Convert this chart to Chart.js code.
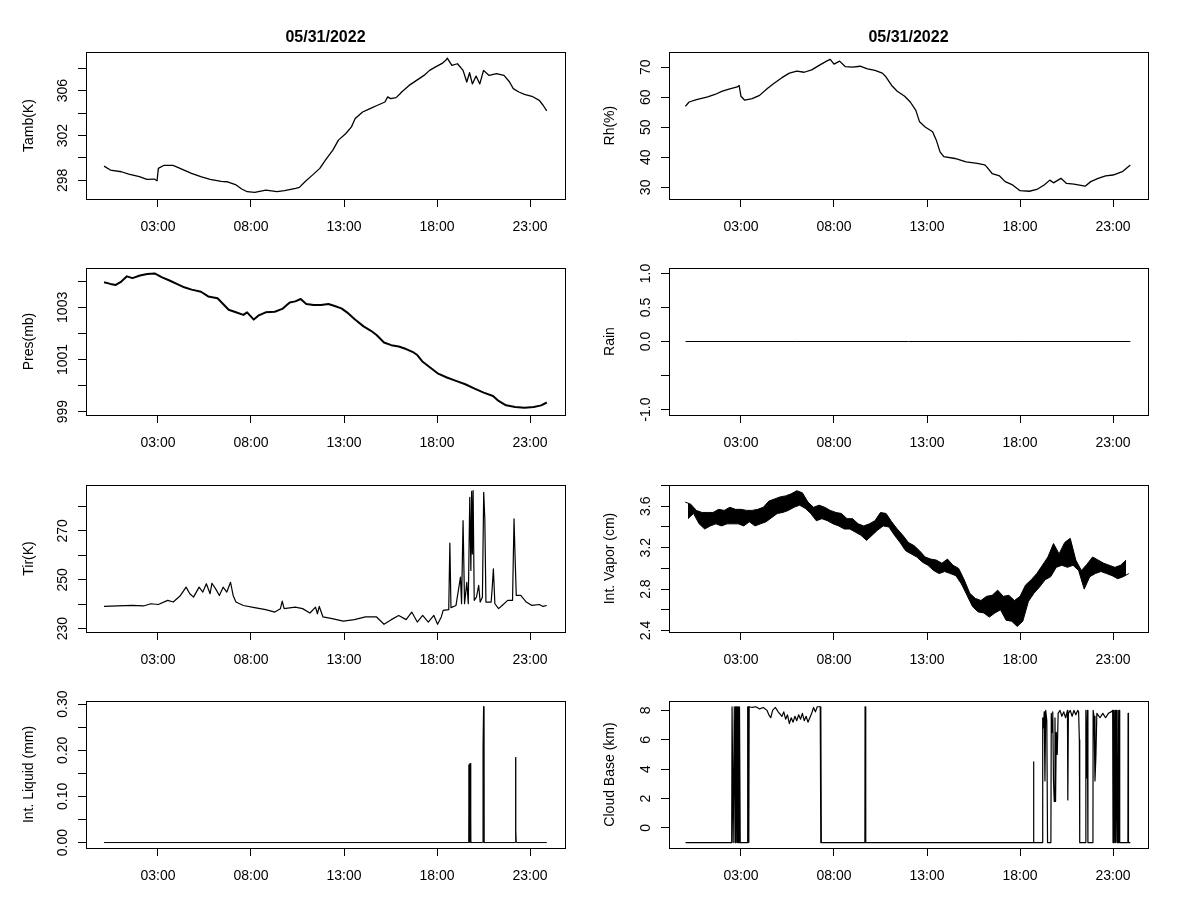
<!DOCTYPE html>
<html>
<head>
<meta charset="utf-8">
<script src="https://cdn.jsdelivr.net/npm/chart.js@4.4.1/dist/chart.umd.min.js"></script>
<style>
body { margin: 0; background: #fff; width: 1200px; height: 900px; position: relative; overflow: hidden; }
canvas { position: absolute; }
</style>
</head>
<body>
<canvas id="tamb" width="600" height="240" style="left:0px;top:0px"></canvas>
<canvas id="rh" width="600" height="240" style="left:583px;top:0px"></canvas>
<canvas id="pres" width="600" height="240" style="left:0px;top:216px"></canvas>
<canvas id="rain" width="600" height="240" style="left:583px;top:216px"></canvas>
<canvas id="tir" width="600" height="240" style="left:0px;top:433px"></canvas>
<canvas id="vapor" width="600" height="240" style="left:583px;top:433px"></canvas>
<canvas id="liquid" width="600" height="240" style="left:0px;top:649px"></canvas>
<canvas id="cloud" width="600" height="240" style="left:583px;top:649px"></canvas>
<script>
// time in hours of 05/31/2022
const hourTicks = [3, 8, 13, 18, 23];
const dayTitle = '05/31/2022';

const tamb = [[0.10,299.27],[0.44,298.92],[1.03,298.77],[1.43,298.56],[2.0,298.33],[2.4,298.09],[2.8,298.12],[2.95,297.97],
  [3.02,299.07],[3.3,299.33],[3.8,299.33],[4.0,299.21],[4.4,298.92],[4.8,298.62],[5.3,298.33],[5.8,298.09],[6.4,297.91],
  [6.7,297.88],[7.2,297.59],[7.5,297.23],[7.8,296.99],[8.2,296.93],[8.8,297.14],[9.4,296.99],[9.8,297.08],[10.4,297.29],
  [10.6,297.38],[10.9,297.88],[11.3,298.47],[11.7,299.07],[12.0,299.81],[12.4,300.70],[12.7,301.59],[13.1,302.18],
  [13.4,302.77],[13.6,303.51],[14.0,304.10],[14.4,304.40],[14.8,304.70],[15.2,304.99],[15.35,305.45],[15.5,305.29],
  [15.8,305.38],[16.0,305.7],[16.1,305.88],[16.5,306.47],[16.9,306.92],[17.3,307.36],[17.6,307.81],[17.9,308.10],
  [18.3,308.46],[18.5,308.76],[18.55,308.9],[18.8,308.25],[19.1,308.40],[19.4,307.81],[19.6,306.77],[19.75,307.6],
  [19.9,306.6],[20.1,307.3],[20.3,306.6],[20.5,307.81],[20.8,307.36],[21.2,307.51],[21.6,307.36],[21.9,306.77],
  [22.1,306.18],[22.4,305.88],[22.7,305.67],[23.1,305.50],[23.5,305.14],[23.7,304.70],[23.9,304.19]];

const rh = [[0.01,56.96],[0.21,58.4],[0.61,59.2],[1.21,60.1],[1.6,60.9],[2.0,62.0],[2.4,62.8],[2.8,63.4],[2.9,63.9],
  [3.0,60.3],[3.2,59.0],[3.6,59.5],[4.0,60.6],[4.4,62.8],[4.8,64.7],[5.2,66.5],[5.6,68.0],[6.0,68.7],[6.4,68.3],
  [6.8,69.1],[7.2,70.6],[7.6,72.0],[7.8,72.6],[8.0,71.0],[8.3,72.0],[8.6,70.2],[9.0,70.0],[9.4,70.3],[9.8,69.4],
  [10.2,68.9],[10.6,68.0],[10.8,66.7],[11.1,63.9],[11.4,62.0],[11.8,60.3],[12.1,58.4],[12.4,55.6],[12.6,51.8],
  [12.9,50.1],[13.3,48.5],[13.5,45.7],[13.7,41.8],[13.9,40.2],[14.5,39.6],[15.1,38.5],[15.7,38.0],[16.1,37.5],
  [16.2,36.9],[16.5,34.6],[16.9,33.8],[17.2,31.9],[17.6,30.8],[18.0,28.9],[18.5,28.7],[18.9,29.3],[19.3,30.8],
  [19.6,32.4],[19.8,31.5],[20.2,33.0],[20.5,31.3],[20.9,31.1],[21.5,30.4],[21.8,31.9],[22.2,33.0],[22.6,33.8],
  [23.0,34.1],[23.5,35.2],[23.93,37.4]];

const pres = [[0.1,1003.96],[0.44,1003.90],[0.73,1003.86],[1.03,1003.99],[1.33,1004.19],[1.63,1004.12],[2.03,1004.22],
  [2.42,1004.28],[2.82,1004.30],[3.22,1004.15],[3.62,1004.03],[4.01,1003.90],[4.41,1003.77],[4.81,1003.68],[5.31,1003.60],
  [5.70,1003.42],[6.20,1003.35],[6.50,1003.13],[6.80,1002.91],[7.19,1002.81],[7.59,1002.71],[7.79,1002.81],[8.15,1002.53],
  [8.39,1002.68],[8.79,1002.81],[9.28,1002.83],[9.68,1002.94],[10.08,1003.19],[10.38,1003.23],[10.67,1003.32],
  [10.97,1003.13],[11.37,1003.09],[11.77,1003.09],[12.16,1003.13],[12.46,1003.06],[12.86,1002.96],[13.16,1002.81],
  [13.56,1002.55],[14.05,1002.27],[14.45,1002.10],[14.75,1001.94],[15.15,1001.65],[15.54,1001.55],[15.94,1001.50],
  [16.34,1001.40],[16.74,1001.27],[16.94,1001.17],[17.23,1000.91],[17.63,1000.69],[18.03,1000.47],[18.53,1000.31],
  [19.02,1000.18],[19.52,1000.05],[20.02,999.88],[20.51,999.73],[21.01,999.60],[21.31,999.41],[21.71,999.24],
  [22.20,999.18],[22.70,999.15],[23.20,999.18],[23.60,999.24],[23.90,999.35]];

const rain = [[0.02,0],[6.0,0],[12.0,0],[18.0,0],[23.93,0]];

const tir = [[0.1,239.1],[0.83,239.3],[1.63,239.5],[2.22,239.3],[2.62,240.2],[3.02,239.9],[3.52,241.6],[3.82,240.9],
  [4.21,243.6],[4.51,247.0],[4.71,244.3],[4.91,242.9],[5.21,247.0],[5.41,245.0],[5.60,248.4],[5.80,244.3],[5.90,248.6],
  [6.10,246.3],[6.30,243.6],[6.50,247.0],[6.70,245.0],[6.90,249.0],[7.04,243.6],[7.19,240.9],[7.59,239.5],[8.19,238.6],
  [8.79,237.8],[9.28,236.8],[9.58,238.2],[9.68,241.3],[9.78,238.2],[10.38,238.8],[10.77,238.2],[11.17,236.4],
  [11.47,238.8],[11.57,236.1],[11.67,239.1],[11.87,234.8],[12.36,234.1],[12.96,233.1],[13.56,233.7],[14.15,234.8],
  [14.75,234.8],[15.15,231.8],[15.54,233.7],[15.94,235.4],[16.34,233.7],[16.64,236.8],[16.94,232.7],[17.23,235.4],
  [17.53,232.7],[17.83,235.4],[18.03,231.8],[18.23,234.8],[18.33,237.5],[18.63,237.8],[18.69,265.0],[18.75,238.6],
  [19.02,239.5],[19.26,251.1],[19.32,240.2],[19.40,274.2],[19.48,240.2],[19.60,249.0],[19.68,240.2],[19.76,283.7],
  [19.82,253.8],[19.86,286.2],[19.90,260.6],[19.94,286.5],[20.00,241.6],[20.12,242.9],[20.24,247.7],[20.32,240.9],
  [20.44,242.9],[20.51,285.8],[20.57,274.9],[20.63,240.9],[20.91,240.9],[20.97,247.0],[21.03,254.5],[21.11,240.2],
  [21.31,238.2],[21.50,239.5],[21.80,241.6],[22.06,241.6],[22.14,274.9],[22.20,258.6],[22.26,243.6],[22.50,243.6],
  [22.80,240.9],[23.10,239.5],[23.50,239.9],[23.70,239.1],[23.90,239.5]];

// integrated vapor: upper and lower edge of the noisy trace every 0.3 h
const vaporTime = [0.0,0.3,0.6,0.9,1.2,1.5,1.8,2.1,2.4,2.7,3.0,3.3,3.6,3.9,4.2,4.5,4.8,5.1,5.4,5.7,6.0,6.3,6.6,6.9,
  7.2,7.5,7.8,8.1,8.4,8.7,9.0,9.3,9.6,9.9,10.2,10.5,10.8,11.1,11.4,11.7,12.0,12.3,12.6,12.9,13.2,13.5,13.8,14.1,
  14.4,14.7,15.0,15.3,15.6,15.9,16.2,16.5,16.8,17.1,17.4,17.7,18.0,18.3,18.6,18.9,19.2,19.5,19.8,20.1,20.4,20.7,
  21.0,21.3,21.6,21.9,22.2,22.5,22.8,23.1,23.4,23.7];
const vaporHi = [3.64,3.62,3.56,3.54,3.54,3.54,3.57,3.56,3.59,3.57,3.57,3.56,3.56,3.57,3.59,3.65,3.67,3.69,3.70,3.72,
  3.75,3.73,3.64,3.59,3.61,3.59,3.56,3.54,3.53,3.48,3.48,3.43,3.41,3.43,3.46,3.54,3.53,3.45,3.38,3.32,3.25,3.22,3.17,
  3.11,3.09,3.08,3.05,3.09,3.03,3.00,2.89,2.76,2.71,2.69,2.73,2.74,2.79,2.73,2.74,2.69,2.73,2.84,2.89,2.95,3.03,3.11,
  3.24,3.14,3.25,3.29,3.08,2.98,3.04,3.11,3.08,3.05,3.03,3.01,3.03,3.08];
const vaporLo = [3.48,3.53,3.43,3.38,3.41,3.43,3.41,3.43,3.43,3.43,3.41,3.45,3.41,3.43,3.45,3.49,3.53,3.54,3.56,3.59,
  3.61,3.58,3.53,3.46,3.48,3.46,3.43,3.41,3.38,3.38,3.35,3.32,3.27,3.32,3.37,3.41,3.40,3.32,3.25,3.17,3.14,3.11,3.06,
  3.03,2.98,2.95,2.97,2.95,2.93,2.85,2.74,2.63,2.58,2.57,2.53,2.57,2.60,2.50,2.49,2.44,2.49,2.68,2.76,2.82,2.89,2.92,
  3.01,3.03,3.01,3.03,2.98,2.80,2.92,2.95,2.97,2.95,2.93,2.90,2.92,2.95];

const liquid = [[0.1,0],[19.70,0],[19.72,0.169],[19.74,0.077],[19.76,0],[19.78,0.172],[19.80,0.133],[19.82,0],
  [20.45,0],[20.47,0.208],[20.50,0.295],[20.52,0],[22.20,0],[22.22,0.185],[22.24,0.027],[22.26,0],[23.9,0]];

const cloud = [[0.02,-1],[2.50,-1],[2.52,8.25],[2.56,8.25],[2.58,-1],[2.62,-1],[2.64,8.25],[2.68,-1],[2.70,8.25],
  [2.72,3.7],[2.74,8.25],[2.78,-1],[2.80,8.25],[2.84,-1],[2.86,8.25],[2.90,-1],[2.92,8.25],[2.96,-1],[3.34,-1],
  [3.36,8.25],[3.40,8.25],[3.42,-1],[3.44,8.25],[3.6,8.2],[3.8,8.25],[4.0,8.1],[4.2,8.2],[4.4,8.0],[4.5,7.7],[4.6,7.5],
  [4.7,8.0],[4.85,8.2],[5.0,7.9],[5.2,7.6],[5.3,7.9],[5.4,7.4],[5.5,7.7],[5.6,7.1],[5.7,7.5],[5.8,7.2],[5.9,7.6],
  [6.0,7.3],[6.1,7.7],[6.2,7.4],[6.3,7.8],[6.4,7.3],[6.5,7.6],[6.6,7.2],[6.7,7.5],[6.8,7.8],[6.9,8.2],[7.0,7.9],
  [7.1,8.25],[7.26,8.25],[7.28,-1],[7.30,8.25],[7.32,-1],[9.66,-1],[9.67,8.25],[9.69,-1],[9.71,8.25],[9.72,-1],
  [18.72,-1],[18.73,4.5],[18.74,-1],[19.20,-1],[19.22,7.5],[19.26,6.8],[19.30,7.9],[19.34,3.2],[19.38,8.0],[19.44,7.3],
  [19.48,-1],[19.66,-1],[19.68,7.8],[19.72,6.5],[19.76,7.9],[19.80,3.2],[19.84,1.8],[19.88,7.5],[19.91,1.8],[19.95,6.5],
  [20.0,5.0],[20.05,7.8],[20.15,8.0],[20.25,7.6],[20.35,7.9],[20.45,7.5],[20.55,8.0],[20.57,1.9],[20.60,7.8],[20.7,8.0],
  [20.8,7.6],[20.9,8.0],[21.0,7.7],[21.1,8.0],[21.15,7.9],[21.19,6.0],[21.21,-1],[21.53,-1],[21.54,8.0],[21.58,3.4],
  [21.62,8.0],[21.65,-1],[21.92,-1],[21.93,8.0],[21.98,7.6],[22.03,3.2],[22.08,4.9],[22.13,7.8],[22.3,7.5],[22.45,7.8],
  [22.6,7.5],[22.75,7.8],[22.9,7.9],[22.98,8.0],[23.00,-1],[23.04,8.0],[23.07,-1],[23.11,8.0],[23.14,-1],[23.18,8.0],
  [23.22,-1],[23.26,8.0],[23.30,-1],[23.33,8.0],[23.36,-1],[23.80,-1],[23.81,7.8],[23.83,-1],[23.93,-1]];

// y axis ticks as R drew them ('' = tick without label)
const tambTicks = [298,300,302,304,306,308];   const tambLabels = ['298','','302','','306',''];
const rhTicks = [30,40,50,60,70];               const rhLabels = ['30','40','50','60','70'];
const presTicks = [999,1000,1001,1002,1003,1004]; const presLabels = ['999','','1001','','1003',''];
const rainTicks = [-1,-0.5,0,0.5,1];            const rainLabels = ['-1.0','','0.0','0.5','1.0'];
const tirTicks = [230,240,250,260,270,280];     const tirLabels = ['230','','250','','270',''];
const vaporTicks = [2.4,2.6,2.8,3.0,3.2,3.4,3.6,3.8]; const vaporLabels = ['2.4','','2.8','','3.2','','3.6',''];
const liquidTicks = [0,0.05,0.1,0.15,0.2,0.25,0.3]; const liquidLabels = ['0.00','','0.10','','0.20','','0.30'];
const cloudTicks = [0,2,4,6,8];                 const cloudLabels = ['0','2','4','6','8'];

const FONT = '"Liberation Sans", Arial, sans-serif';
Chart.defaults.font.family = FONT;
Chart.defaults.font.size = 14;
Chart.defaults.color = '#000';

function hhmm(v) {
    return (v < 10 ? '0' : '') + v + ':00';
}

function toPoints(pairs) {
    return pairs.map(p => ({ x: p[0], y: p[1] }));
}

function lineSet(points, lw, extra) {
    return Object.assign({
        data: points,
        borderColor: '#000',
        borderWidth: lw,
        borderJoinStyle: 'round',
        pointRadius: 0,
        tension: 0,
        fill: false
    }, extra || {});
}

// box round the plot region and vertical y tick labels, like base R
const rBox = {
    id: 'rbox',
    afterDraw(chart, args, opts) {
        const ctx = chart.ctx;
        const a = chart.chartArea;
        const y = chart.scales.y;
        ctx.save();
        ctx.strokeStyle = '#000';
        ctx.lineWidth = 1;
        ctx.strokeRect(Math.round(a.left) + 0.5, Math.round(a.top) + 0.5, Math.round(a.right - a.left), Math.round(a.bottom - a.top));
        ctx.fillStyle = '#000';
        ctx.font = '14px ' + FONT;
        ctx.textAlign = 'center';
        ctx.textBaseline = 'middle';
        opts.ticks.forEach((v, i) => {
            if (!opts.labels[i]) return;
            ctx.save();
            ctx.translate(a.left - 23, y.getPixelForValue(v));
            ctx.rotate(-Math.PI / 2);
            ctx.fillText(opts.labels[i], 0, 0);
            ctx.restore();
        });
        ctx.restore();
    }
};

function makePanel(id, p) {
    new Chart(document.getElementById(id), {
        type: 'line',
        data: { datasets: p.sets },
        options: {
            responsive: false,
            animation: false,
            devicePixelRatio: 1,
            events: [],
            layout: { padding: { top: p.head ? 0 : 52, right: 35, left: 0, bottom: 0 } },
            plugins: {
                legend: { display: false },
                tooltip: { enabled: false },
                title: {
                    display: !!p.head,
                    text: dayTitle,
                    fullSize: false,
                    color: '#000',
                    font: { size: 16, weight: 'bold' },
                    padding: { top: 28, bottom: 5 }
                },
                rbox: { ticks: p.ticks, labels: p.labels }
            },
            scales: {
                x: {
                    type: 'linear',
                    min: -0.87,
                    max: 24.88,
                    afterBuildTicks: s => { s.ticks = hourTicks.map(v => ({ value: v })); },
                    afterFit: s => { s.height = 41; },
                    grid: { drawOnChartArea: false, color: '#000', tickLength: 8 },
                    border: { display: false },
                    ticks: { autoSkip: false, maxRotation: 0, padding: 12, color: '#000', callback: v => hhmm(v) }
                },
                y: {
                    type: 'linear',
                    min: p.min,
                    max: p.max,
                    afterBuildTicks: s => { s.ticks = p.ticks.map(v => ({ value: v })); },
                    afterFit: s => { s.width = 86; },
                    grid: { drawOnChartArea: false, color: '#000', tickLength: 8 },
                    border: { display: false },
                    ticks: { display: false },
                    title: { display: true, text: p.title, color: '#000', font: { size: 14 }, padding: { top: p.right ? 19 : 21, bottom: 0 } }
                }
            }
        },
        plugins: [rBox]
    });
}

// the vapor trace is so noisy it reads as a dark band: fill between its upper and lower edge
const vaporUpper = vaporTime.map((t, i) => ({ x: t, y: vaporHi[i] }));
const vaporLower = vaporTime.map((t, i) => ({ x: t + 0.15, y: vaporLo[i] }));

makePanel('tamb', { sets: [lineSet(toPoints(tamb), 1.3)], min: 296.34, max: 309.43, ticks: tambTicks, labels: tambLabels, title: 'Tamb(K)', head: true });
makePanel('rh', { sets: [lineSet(toPoints(rh), 1.3)], min: 26.12, max: 74.97, ticks: rhTicks, labels: rhLabels, title: 'Rh(%)', head: true, right: true });
makePanel('pres', { sets: [lineSet(toPoints(pres), 2)], min: 998.87, max: 1004.51, ticks: presTicks, labels: presLabels, title: 'Pres(mb)' });
makePanel('rain', { sets: [lineSet(toPoints(rain), 1)], min: -1.08, max: 1.08, ticks: rainTicks, labels: rainLabels, title: 'Rain', right: true });
makePanel('tir', { sets: [lineSet(toPoints(tir), 1.2)], min: 228.64, max: 288.8, ticks: tirTicks, labels: tirLabels, title: 'Tir(K)' });
makePanel('vapor', {
    sets: [
        lineSet(vaporUpper, 1),
        lineSet(vaporLower, 1, { fill: '-1', backgroundColor: '#000' })
    ],
    min: 2.386, max: 3.805, ticks: vaporTicks, labels: vaporLabels, title: 'Int. Vapor (cm)', right: true
});
makePanel('liquid', { sets: [lineSet(toPoints(liquid), 1)], min: -0.0118, max: 0.3068, ticks: liquidTicks, labels: liquidLabels, title: 'Int. Liquid (mm)' });
makePanel('cloud', { sets: [lineSet(toPoints(cloud), 1.2)], min: -1.37, max: 8.64, ticks: cloudTicks, labels: cloudLabels, title: 'Cloud Base (km)', right: true });
</script>
</body>
</html>
